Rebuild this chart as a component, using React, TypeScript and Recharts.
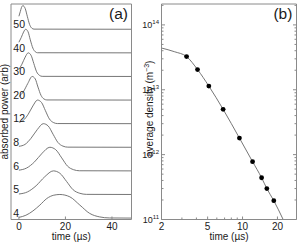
import { Label, Line, LineChart, ReferenceDot, XAxis, YAxis } from 'recharts';

const AXIS = '#8a8a8a';
const INK = '#1a1a1a';
const CURVE = '#666';
const FONT = '"Liberation Sans", Arial, sans-serif';

// panel (a): pulse shapes, [time µs, normalised power], stacked bottom to top
const pulseLabels = ['4', '5', '6', '8', '12', '20', '30', '40', '50'];
const pulse4 = [[0, 0.03], [3, 0.12], [6, 0.3], [9, 0.55], [12, 0.83], [15, 0.97], [17.6, 1], [21.9, 0.9], [26.2, 0.55], [30.4, 0.2], [34.7, 0.05], [39, 0.005], [48.4, 0]];
const pulse5 = [[0, 0.02], [3.7, 0.11], [7.4, 0.37], [11.1, 0.75], [14.8, 1], [17.6, 0.9], [20.5, 0.55], [23.3, 0.2], [26.2, 0.05], [29, 0.005], [48.4, 0]];
const pulse6 = [[0, 0.03], [3.3, 0.12], [6.7, 0.38], [10, 0.75], [13.3, 1], [15.8, 0.9], [18.4, 0.55], [20.9, 0.2], [23.5, 0.05], [26, 0.005], [48.4, 0]];
const pulse8 = [[0, 0.04], [2.6, 0.12], [5.2, 0.38], [7.9, 0.75], [10.5, 1], [12.6, 0.9], [14.7, 0.55], [16.8, 0.2], [18.9, 0.05], [21, 0.005], [48.4, 0]];
const pulse12 = [[0, 0.06], [2, 0.15], [4, 0.4], [6, 0.75], [8, 1], [9.7, 0.9], [11.4, 0.55], [13.1, 0.2], [14.8, 0.05], [16.5, 0.005], [48.4, 0]];
const pulse20 = [[0, 0.15], [1.9, 0.35], [3.8, 0.7], [5.7, 1], [7, 0.9], [8.2, 0.55], [9.5, 0.2], [10.7, 0.05], [12, 0.005], [48.4, 0]];
const pulse30 = [[0, 0.3], [1.3, 0.52], [2.7, 0.82], [4, 1], [5.2, 0.9], [6.4, 0.55], [7.6, 0.2], [8.8, 0.05], [10, 0.005], [48.4, 0]];
const pulse40 = [[0, 0.45], [1, 0.65], [2, 0.88], [2.9, 1], [3.9, 0.9], [4.9, 0.55], [6, 0.2], [7, 0.05], [8, 0.005], [48.4, 0]];
const pulse50 = [[0, 0.55], [0.6, 0.75], [1.1, 0.92], [1.7, 1], [2.7, 0.88], [3.6, 0.55], [4.6, 0.2], [5.5, 0.05], [6.5, 0.005], [48.4, 0]];
const pulses = [pulse4, pulse5, pulse6, pulse8, pulse12, pulse20, pulse30, pulse40, pulse50];
const timeTicks = [0, 20, 40];

// panel (b): average density vs time
const densityTimes = [3.29, 4.09, 5.12, 6.8, 9.4, 12.2, 14.6, 16.2, 18.6];
const densityValues = [3.25e13, 2.05e13, 1.14e13, 5.0e12, 1.8e12, 7.8e11, 4.4e11, 3.0e11, 1.95e11];
const fitTimes = [2, 2.6, 3.29, 4.09, 5.12, 6.8, 9.4, 12.2, 14.6, 16.2, 18.6, 22.4];
const fitValues = [4.4e13, 3.85e13, 3.25e13, 2.05e13, 1.14e13, 5.0e12, 1.8e12, 7.8e11, 4.4e11, 3.0e11, 1.95e11, 1e11];
const logTimeTicks = [2, 3, 4, 5, 6, 7, 8, 9, 10, 20];
const logTimeLabels = [2, 5, 10, 20];
const densityTicks = [
  1e11, 2e11, 3e11, 4e11, 5e11, 6e11, 7e11, 8e11, 9e11,
  1e12, 2e12, 3e12, 4e12, 5e12, 6e12, 7e12, 8e12, 9e12,
  1e13, 2e13, 3e13, 4e13, 5e13, 6e13, 7e13, 8e13, 9e13,
  1e14, 2e14,
];
const densityMajors = [1e11, 1e12, 1e13, 1e14];

function XTick(props: any) {
  const { x, y, payload, labels, majors, top } = props;
  const v = payload.value;
  const len = !majors || majors.includes(v) ? 3 : 2;
  return (
    <g>
      <line x1={x} x2={x} y1={y} y2={top ? y + len : y - len} stroke={AXIS} />
      {labels && labels.includes(v) && (
        <text x={x} y={y + 10.5} textAnchor="middle" fontSize={10} fill={INK} fontFamily={FONT}>
          {v}
        </text>
      )}
    </g>
  );
}

function YTick(props: any) {
  const { x, y, payload, right, labelled } = props;
  const v = payload.value;
  const major = densityMajors.includes(v);
  const len = major ? 3.5 : 2;
  return (
    <g>
      <line x1={x} x2={right ? x - len : x + len} y1={y} y2={y} stroke={AXIS} />
      {labelled && major && (
        <text x={x - 2.5} y={y + 3.5} textAnchor="end" fontSize={9} fill={INK} fontFamily={FONT}>
          10<tspan dy={-4} fontSize={6}>{Math.round(Math.log10(v))}</tspan>
        </text>
      )}
    </g>
  );
}

const xLabel = (props: any) => {
  const vb = props.viewBox;
  return (
    <text x={vb.x + vb.width / 2} y={vb.y + 20} textAnchor="middle" fontSize={10} fill={INK} fontFamily={FONT}>
      time (µs)
    </text>
  );
};

const yLabelA = (props: any) => {
  const vb = props.viewBox;
  const cx = 8;
  const cy = vb.y + vb.height / 2;
  return (
    <text x={cx} y={cy} transform={`rotate(-90 ${cx} ${cy})`} textAnchor="middle" fontSize={10} fill={INK} fontFamily={FONT}>
      absorbed power (arb)
    </text>
  );
};

const yLabelB = (props: any) => {
  const vb = props.viewBox;
  const cx = 12.5;
  const cy = vb.y + vb.height / 2 - 3;
  return (
    <text x={cx} y={cy} transform={`rotate(-90 ${cx} ${cy})`} textAnchor="middle" fontSize={10} fill={INK} fontFamily={FONT}>
      average density (m<tspan dy={-4} fontSize={7}>−3</tspan><tspan dy={4}>)</tspan>
    </text>
  );
};

const textShape = (text: string, size: number, anchor: string) => (p: any) => (
  <text x={p.cx} y={p.cy} textAnchor={anchor} fontSize={size} fill={INK} fontFamily={FONT}>
    {text}
  </text>
);

export default function App() {
  const powerData = pulses.map((p, i) => p.map(([t, v]) => ({ t, v: v + i })));
  const dots = densityTimes.map((t, i) => ({ t, n: densityValues[i] }));
  const fit = fitTimes.map((t, i) => ({ t, n: fitValues[i] }));

  const edge = { stroke: AXIS };

  return (
    <div style={{ position: 'fixed', left: 0, top: 0, width: 299, height: 243, background: '#fff', fontFamily: FONT }}>
      <div style={{ position: 'absolute', left: 0, top: 0 }}>
        <LineChart width={140} height={243} margin={{ top: 3, right: 7.5, bottom: 22.5, left: 10 }}>
          <XAxis
            type="number"
            dataKey="t"
            domain={[-3.4, 48.4]}
            allowDataOverflow
            ticks={timeTicks}
            interval={0}
            height={1}
            tickSize={0}
            tickMargin={0}
            tickLine={false}
            axisLine={edge}
            tick={<XTick labels={timeTicks} />}
          >
            <Label content={xLabel} />
          </XAxis>
          <XAxis
            xAxisId="top"
            orientation="top"
            type="number"
            domain={[-3.4, 48.4]}
            allowDataOverflow
            ticks={timeTicks}
            interval={0}
            height={1}
            tickSize={0}
            tickMargin={0}
            tickLine={false}
            axisLine={edge}
            tick={<XTick top />}
          />
          <YAxis
            type="number"
            domain={[-0.06, 9.07]}
            allowDataOverflow
            width={1}
            tick={false}
            tickLine={false}
            axisLine={edge}
          >
            <Label content={yLabelA} />
          </YAxis>
          <YAxis
            yAxisId="r"
            orientation="right"
            type="number"
            domain={[-0.06, 9.07]}
            allowDataOverflow
            width={1}
            tick={false}
            tickLine={false}
            axisLine={edge}
          />
          {powerData.map((d, i) => (
            <Line
              key={pulseLabels[i]}
              data={d}
              dataKey="v"
              type="monotone"
              stroke={CURVE}
              strokeWidth={0.9}
              dot={false}
              activeDot={false}
              isAnimationActive={false}
            />
          ))}
          {pulseLabels.map((lab, i) => (
            <ReferenceDot key={'l' + lab} x={-2.4} y={i + 0.05} r={0} shape={textShape(lab, 10.5, 'start')} />
          ))}
          <ReferenceDot x={42.8} y={8.45} r={0} shape={textShape('(a)', 15.5, 'middle')} />
        </LineChart>
      </div>
      <div style={{ position: 'absolute', left: 140, top: 0 }}>
        <LineChart width={159} height={243} margin={{ top: 3, right: 1.5, bottom: 22.5, left: 20.5 }}>
          <XAxis
            type="number"
            dataKey="t"
            scale="log"
            domain={[2, 29.2]}
            allowDataOverflow
            ticks={logTimeTicks}
            interval={0}
            height={1}
            tickSize={0}
            tickMargin={0}
            tickLine={false}
            axisLine={edge}
            tick={<XTick labels={logTimeLabels} majors={logTimeLabels} />}
          >
            <Label content={xLabel} />
          </XAxis>
          <XAxis
            xAxisId="top"
            orientation="top"
            type="number"
            scale="log"
            domain={[2, 29.2]}
            allowDataOverflow
            ticks={logTimeTicks}
            interval={0}
            height={1}
            tickSize={0}
            tickMargin={0}
            tickLine={false}
            axisLine={edge}
            tick={<XTick top majors={logTimeLabels} />}
          />
          <YAxis
            type="number"
            scale="log"
            domain={[1e11, 2.1e14]}
            allowDataOverflow
            ticks={densityTicks}
            interval={0}
            width={1}
            tickSize={0}
            tickMargin={0}
            tickLine={false}
            axisLine={edge}
            tick={<YTick labelled />}
          >
            <Label content={yLabelB} />
          </YAxis>
          <YAxis
            yAxisId="r"
            orientation="right"
            type="number"
            scale="log"
            domain={[1e11, 2.1e14]}
            allowDataOverflow
            ticks={densityTicks}
            interval={0}
            width={1}
            tickSize={0}
            tickMargin={0}
            tickLine={false}
            axisLine={edge}
            tick={<YTick right />}
          />
          <Line
            data={fit}
            dataKey="n"
            type="monotone"
            stroke={CURVE}
            strokeWidth={0.9}
            dot={false}
            activeDot={false}
            isAnimationActive={false}
          />
          <Line
            data={dots}
            dataKey="n"
            stroke="none"
            dot={{ r: 2.4, fill: '#000', stroke: 'none' }}
            activeDot={false}
            isAnimationActive={false}
          />
          <ReferenceDot x={22.3} y={1.25e14} r={0} shape={textShape('(b)', 15.5, 'middle')} />
        </LineChart>
      </div>
    </div>
  );
}
